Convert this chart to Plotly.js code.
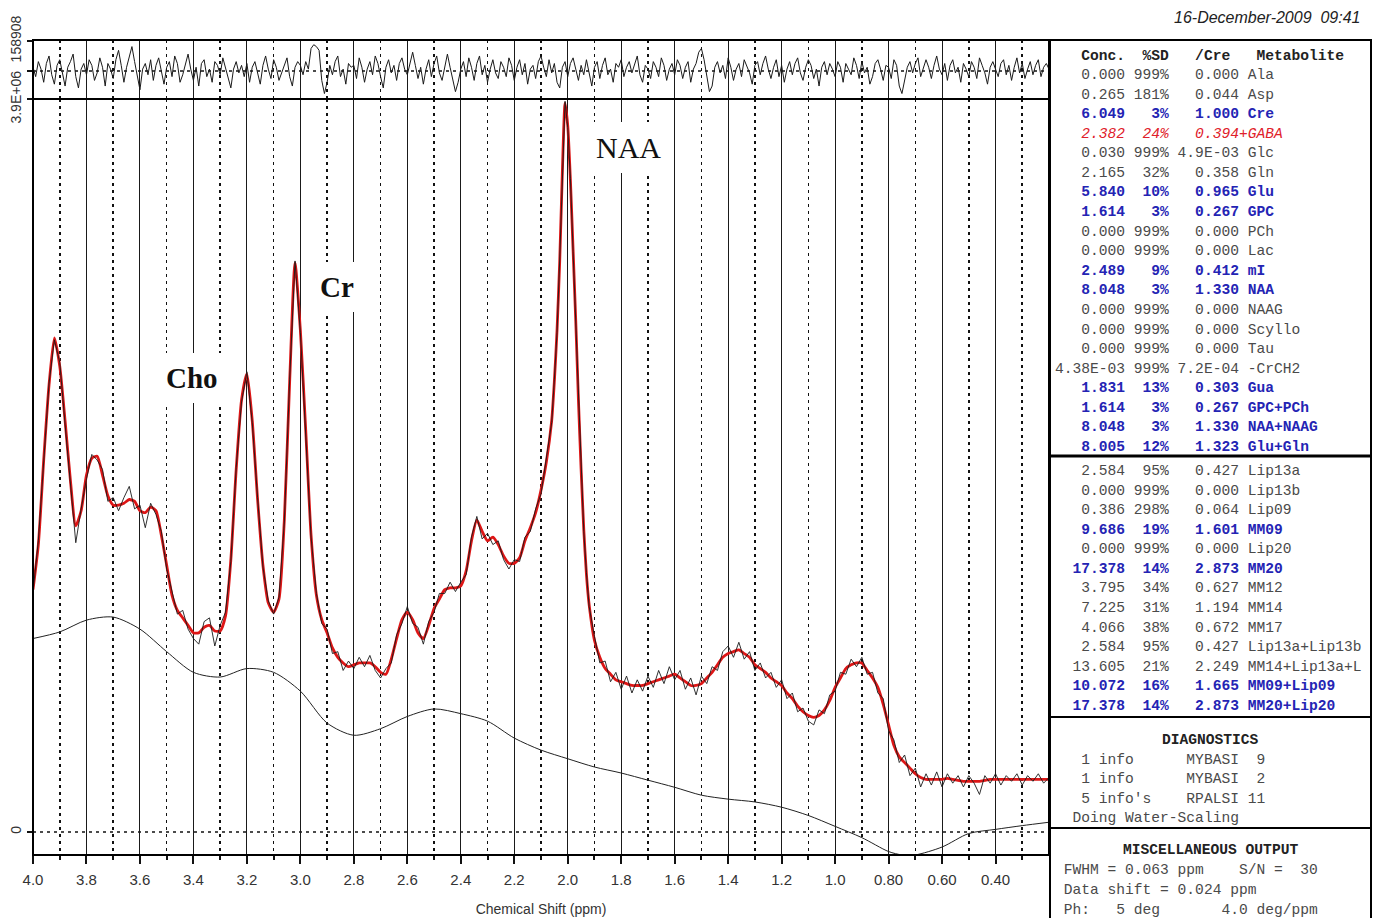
<!DOCTYPE html>
<html><head><meta charset="utf-8">
<script src="https://cdn.plot.ly/plotly-3.0.1.min.js"></script>
<style>html,body{margin:0;padding:0;background:#fff;}#chart{width:1380px;height:918px;}</style>
</head><body><div id="chart"></div>
<script>
// ---------------- DATA (intensity in units of 1e4) ----------------
const fitPpm = [
4.00,3.98,3.96,3.94,3.92,3.90,3.88,3.86,3.84,3.82,
3.80,3.78,3.76,3.74,3.72,3.70,3.68,3.66,3.64,3.62,
3.60,3.58,3.56,3.54,3.52,3.50,3.48,3.46,3.44,3.42,
3.40,3.38,3.36,3.34,3.32,3.30,3.28,3.26,3.24,3.22,
3.20,3.18,3.16,3.14,3.12,3.10,3.08,3.06,3.04,3.02,
3.00,2.98,2.96,2.94,2.92,2.90,2.88,2.86,2.84,2.82,
2.80,2.78,2.76,2.74,2.72,2.70,2.68,2.66,2.64,2.62,
2.60,2.58,2.56,2.54,2.52,2.50,2.48,2.46,2.44,2.42,
2.40,2.38,2.36,2.34,2.32,2.30,2.28,2.26,2.24,2.22,
2.20,2.18,2.16,2.14,2.12,2.10,2.08,2.06,
2.05,2.04,2.03,2.02,2.01,2.00,1.99,1.98,1.97,1.96,1.95,1.94,1.93,1.92,
1.90,1.88,1.86,1.84,1.82,1.80,1.78,1.76,1.74,1.72,
1.70,1.68,1.66,1.64,1.62,1.60,1.58,1.56,1.54,1.52,
1.50,1.48,1.46,1.44,1.42,1.40,1.38,1.36,1.34,1.32,
1.30,1.28,1.26,1.24,1.22,1.20,1.18,1.16,1.14,1.12,
1.10,1.08,1.06,1.04,1.02,1.00,0.98,0.96,0.94,0.92,
0.90,0.88,0.86,0.84,0.82,0.80,0.78,0.76,0.74,0.72,
0.70,0.68,0.66,0.64,0.62,0.60,0.58,0.56,0.54,0.52,
0.50,0.48,0.46,0.44,0.42,0.40,0.38,0.36,0.34,0.32,
0.30,0.28,0.26,0.24,0.22,0.20];

const fitVals = [
129,153,198,238,263,248,219,187,163,171,
190,199,200,190,179,174,174,175,177,176,
171,170,173,171,158,142,126,118,114,110,
106,106,109,110,107,107,115,145,193,230,
244,219,177,142,122,117,124,166,240,303,
267,214,158,126,113,106,98,93,90,88,
89,90,90,90,88,85,84,92,103,113,
117,113,106,103,110,119,124,129,130,130,
131,139,155,166,160,155,157,153,147,143,
143,146,155,162,170,182,197,219,
240,267,304,352,388,376,347,310,272,230,193,161,137,121,
102,93,87,84,81,80,79,78,78,78,
79,80,81,82,83,84,82,80,78,78,
79,82,85,89,93,95,96,97,95,93,
89,87,85,82,80,78,74,71,67,64,
62,61,62,65,70,77,82,87,89,90,
90,86,82,77,68,57,46,40,37,34,
31,29,28,28,28,28,28.5,28,27.5,27,
27,27,27,27.5,28,28,28,28,28,28,
28,28,28,28,28,28];

const dataVals = [
128,155,197,239,262,250,217,186,154,172,
188,201,198,193,176,178,171,178,184,172,
174,162,175,169,160,140,128,116,118,108,
103,100,112,114,99,110,117,144,194,229,
245,218,178,141,123,116,125,165,241,304,
266,215,157,127,111,108,95,96,86,91,
87,93,88,94,86,82,87,90,105,111,
120,111,109,100,112,117,127,127,133,128,
133,137,157,168,156,159,153,155,145,140,
145,144,157,160,172,180,199,218,
241,266,305,351,389,375,348,309,273,229,194,160,138,120,
104,90,91,80,85,76,83,74,81,75,
83,77,86,79,88,81,86,76,82,73,
83,79,88,86,96,99,93,101,92,96,
86,90,82,85,77,81,71,74,64,66,
59,57,65,63,73,75,85,84,92,88,
93,84,85,74,71,54,49,37,41,30,
34,24,31,25,32,24,31,26,30,24,
30,26,20,30,26,31,25,30,27,31,
25,30,27,31,26,29];

const basePpm = [4.0,3.9,3.8,3.7,3.6,3.5,3.4,3.3,3.2,3.1,3.0,2.9,2.8,2.7,2.6,2.5,2.4,2.3,2.2,2.1,
2.0,1.9,1.8,1.7,1.6,1.5,1.4,1.3,1.2,1.1,1.0,0.9,0.8,0.75,0.7,0.6,0.5,0.4,0.3,0.2];
const baseVals = [103,106.5,112.8,114.4,108,96,85,82.5,87,85,75,58,51.5,55,61.5,65.5,63,59,50,43.6,
39,34.6,31.4,27.6,23.8,19.6,17.5,16,13.2,8.8,3,-3,-10.4,-12.2,-12.2,-8,-0.8,1.4,3.4,5.2];

const resPpm = [
4.00,3.99,3.98,3.97,3.96,3.95,3.94,3.93,3.92,3.91,3.90,3.89,3.88,3.87,3.86,3.85,3.84,3.83,3.82,3.81,
3.80,3.79,3.78,3.77,3.76,3.75,3.74,3.73,3.72,3.71,3.70,3.69,3.68,3.67,3.66,3.65,3.64,3.63,3.62,3.61,
3.60,3.59,3.58,3.57,3.56,3.55,3.54,3.53,3.52,3.51,3.50,3.49,3.48,3.47,3.46,3.45,3.44,3.43,3.42,3.41,
3.40,3.39,3.38,3.37,3.36,3.35,3.34,3.33,3.32,3.31,3.30,3.29,3.28,3.27,3.26,3.25,3.24,3.23,3.22,3.21,
3.20,3.19,3.18,3.17,3.16,3.15,3.14,3.13,3.12,3.11,3.10,3.09,3.08,3.07,3.06,3.05,3.04,3.03,3.02,3.01,
3.00,2.99,2.98,2.97,2.96,2.95,2.94,2.93,2.92,2.91,2.90,2.89,2.88,2.87,2.86,2.85,2.84,2.83,2.82,2.81,
2.80,2.79,2.78,2.77,2.76,2.75,2.74,2.73,2.72,2.71,2.70,2.69,2.68,2.67,2.66,2.65,2.64,2.63,2.62,2.61,
2.60,2.59,2.58,2.57,2.56,2.55,2.54,2.53,2.52,2.51,2.50,2.49,2.48,2.47,2.46,2.45,2.44,2.43,2.42,2.41,
2.40,2.39,2.38,2.37,2.36,2.35,2.34,2.33,2.32,2.31,2.30,2.29,2.28,2.27,2.26,2.25,2.24,2.23,2.22,2.21,
2.20,2.19,2.18,2.17,2.16,2.15,2.14,2.13,2.12,2.11,2.10,2.09,2.08,2.07,2.06,2.05,2.04,2.03,2.02,2.01,
2.00,1.99,1.98,1.97,1.96,1.95,1.94,1.93,1.92,1.91,1.90,1.89,1.88,1.87,1.86,1.85,1.84,1.83,1.82,1.81,
1.80,1.79,1.78,1.77,1.76,1.75,1.74,1.73,1.72,1.71,1.70,1.69,1.68,1.67,1.66,1.65,1.64,1.63,1.62,1.61,
1.60,1.59,1.58,1.57,1.56,1.55,1.54,1.53,1.52,1.51,1.50,1.49,1.48,1.47,1.46,1.45,1.44,1.43,1.42,1.41,
1.40,1.39,1.38,1.37,1.36,1.35,1.34,1.33,1.32,1.31,1.30,1.29,1.28,1.27,1.26,1.25,1.24,1.23,1.22,1.21,
1.20,1.19,1.18,1.17,1.16,1.15,1.14,1.13,1.12,1.11,1.10,1.09,1.08,1.07,1.06,1.05,1.04,1.03,1.02,1.01,
1.00,0.99,0.98,0.97,0.96,0.95,0.94,0.93,0.92,0.91,0.90,0.89,0.88,0.87,0.86,0.85,0.84,0.83,0.82,0.81,
0.80,0.79,0.78,0.77,0.76,0.75,0.74,0.73,0.72,0.71,0.70,0.69,0.68,0.67,0.66,0.65,0.64,0.63,0.62,0.61,
0.60,0.59,0.58,0.57,0.56,0.55,0.54,0.53,0.52,0.51,0.50,0.49,0.48,0.47,0.46,0.45,0.44,0.43,0.42,0.41,
0.40,0.39,0.38,0.37,0.36,0.35,0.34,0.33,0.32,0.31,0.30,0.29,0.28,0.27,0.26,0.25,0.24,0.23,0.22,0.21,
0.20];

const resVals = [
2,-3,5,1,-6,4,8,-2,-7,3,6,-1,-8,2,5,9,-3,-9,1,4,
-2,6,3,-5,-1,7,2,-8,4,1,-4,6,11,3,-6,2,8,13,5,-3,
-10,1,4,-2,6,-5,3,7,-1,-7,2,5,-3,8,4,-6,-2,3,9,1,
-5,2,-8,4,6,-3,1,-6,5,3,-2,7,2,-4,-9,1,5,-1,3,-3,
4,-6,2,5,-2,-7,3,8,1,-4,6,2,-5,-1,4,7,-3,-8,2,5,
3,-2,5,1,12,14,13,11,-5,-12,-6,3,-2,5,8,-3,1,-7,4,2,
3,-4,7,2,-6,1,5,-2,8,4,-3,-9,2,6,-1,3,-5,4,7,1,
-2,5,10,3,-4,2,-7,1,6,-3,4,8,-1,-5,3,9,2,-4,-11,-6,
1,5,-3,7,2,-5,4,8,-2,3,-6,1,6,-1,-4,5,2,-3,7,3,
-5,2,6,-2,4,-7,1,3,-4,5,8,2,-3,6,-1,4,-6,-9,2,5,
-3,4,7,1,-5,3,-2,6,-1,-8,2,5,-4,3,7,-2,1,-6,4,2,
6,-3,2,5,-1,4,8,-2,-6,3,1,-4,5,2,-3,7,3,-5,1,4,
-2,6,3,-4,2,5,-6,1,4,10,12,6,-3,-11,-8,2,5,-1,3,-4,
7,2,-5,1,4,-3,6,2,-1,-7,3,5,-2,4,8,1,-4,2,6,-3,
3,-6,1,5,-2,4,7,-1,-5,2,6,3,-4,1,-8,2,5,-2,4,1,
-3,5,2,-6,4,1,-2,7,3,-4,5,-1,2,-7,-3,4,6,1,-5,3,
2,-4,6,3,-8,-12,-5,2,5,-1,4,7,-3,1,6,2,-4,3,8,1,
-2,4,-5,3,6,-1,2,-6,4,1,-3,5,2,-4,7,3,-1,-7,2,5,
1,-3,4,6,-2,3,-5,2,7,-1,4,-4,1,5,-2,3,6,-3,2,4,
1];

const majorTicks  = [4.0,3.8,3.6,3.4,3.2,3.0,2.8,2.6,2.4,2.2,2.0,1.8,1.6,1.4,1.2,1.0,0.8,0.6,0.4];
const majorLabels = ['4.0','3.8','3.6','3.4','3.2','3.0','2.8','2.6','2.4','2.2','2.0','1.8','1.6','1.4','1.2','1.0','0.80','0.60','0.40'];
const minorTicks  = [3.9,3.7,3.5,3.3,3.1,2.9,2.7,2.5,2.3,2.1,1.9,1.7,1.5,1.3,1.1,0.9,0.7,0.5,0.3];
const yMainTicks = [0, 390];
const yMainLabels = ['0', '3.9E+06'];
const yResTicks = [0, 15.89];
const yResLabels = ['', '158908'];

const peakLabels = ['NAA', 'Cr', 'Cho'];

const metNames = ['Ala','Asp','Cre','GABA','Glc','Gln','Glu','GPC','PCh','Lac','mI','NAA','NAAG','Scyllo','Tau','-CrCH2','Gua','GPC+PCh','NAA+NAAG','Glu+Gln'];
const metConc  = ['0.000','0.265','6.049','2.382','0.030','2.165','5.840','1.614','0.000','0.000','2.489','8.048','0.000','0.000','0.000','4.38E-03','1.831','1.614','8.048','8.005'];
const metSD    = [999,181,3,24,999,32,10,3,999,999,9,3,999,999,999,999,13,3,3,12];
const metRatio = ['0.000','0.044','1.000','0.394','4.9E-03','0.358','0.965','0.267','0.000','0.000','0.412','1.330','0.000','0.000','0.000','7.2E-04','0.303','0.267','1.330','1.323'];
const highlighted = ['GABA'];

const lipNames = ['Lip13a','Lip13b','Lip09','MM09','Lip20','MM20','MM12','MM14','MM17','Lip13a+Lip13b','MM14+Lip13a+L','MM09+Lip09','MM20+Lip20'];
const lipConc  = ['2.584','0.000','0.386','9.686','0.000','17.378','3.795','7.225','4.066','2.584','13.605','10.072','17.378'];
const lipSD    = [95,999,298,19,999,14,34,31,38,95,21,16,14];
const lipRatio = ['0.427','0.000','0.064','1.601','0.000','2.873','0.627','1.194','0.672','0.427','2.249','1.665','2.873'];

const diagTitle = 'DIAGNOSTICS';
const diagLines = ['   1 info      MYBASI  9', '   1 info      MYBASI  2', "   5 info's    RPALSI 11", '  Doing Water-Scaling'];
const miscTitle = 'MISCELLANEOUS OUTPUT';
const miscLines = [' FWHM = 0.063 ppm    S/N =  30', ' Data shift = 0.024 ppm', ' Ph:   5 deg       4.0 deg/ppm'];
const tableHeader = '   Conc.  %SD   /Cre   Metabolite';
const dateText = '16-December-2009  09:41';
const xTitle = 'Chemical Shift (ppm)';

// ---------------- LAYOUT ----------------
const W = 1380, H = 918;
const L = 33, R = 1049, T = 40, B = 855, SPLIT = 99;
const px = x => (x - L) / (R - L);
const py = y => (B - y) / (B - T);
const nb = s => s.replace(/ /g, '\u00A0');

const MONO = 'Liberation Mono, Courier New, monospace';
const SANS = 'Liberation Sans, Arial, sans-serif';
const SERIF = 'Liberation Serif, Times New Roman, serif';
const GRAY = '#4a4a4a', BLUE = '#2424b4', RED = '#e0202a';

function row(conc, sd, ratio, name, sep) {
  return conc.padStart(8) + ' ' + (sd + '%').padStart(4) + ' ' + ratio.padStart(7) + sep + name;
}
function styled(txt, kind) {
  const t = nb(txt);
  if (kind === 'blue') return '<b>' + t + '</b>';
  if (kind === 'red') return '<i>' + t + '</i>';
  return t;
}
const annotations = [];
function addLine(text, yPix, color, xPix, anchor) {
  annotations.push({xref:'paper', yref:'paper', x: px(xPix), y: py(yPix), xanchor: anchor || 'left', yanchor:'middle',
    text: text, showarrow:false, borderpad:0, borderwidth:0,
    font:{family: MONO, size: 14.6, color: color}});
}
addLine('<b>' + nb(tableHeader) + '</b>', 56, '#222', 1055);
metNames.forEach((n, i) => {
  const hi = highlighted.includes(n);
  const kind = hi ? 'red' : (metSD[i] <= 20 ? 'blue' : 'gray');
  const col = kind === 'red' ? RED : kind === 'blue' ? BLUE : GRAY;
  addLine(styled(row(metConc[i], metSD[i], metRatio[i], n, hi ? '+' : ' '), kind), 75 + i * 19.58, col, 1055);
});
lipNames.forEach((n, i) => {
  const kind = lipSD[i] <= 20 ? 'blue' : 'gray';
  addLine(styled(row(lipConc[i], lipSD[i], lipRatio[i], n, ' '), kind), 471 + i * 19.58, kind === 'blue' ? BLUE : GRAY, 1055);
});
addLine('<b>' + diagTitle + '</b>', 740, '#222', 1210, 'center');
diagLines.forEach((t, i) => addLine(nb(t), 759.5 + i * 19.6, GRAY, 1055));
addLine('<b>' + miscTitle + '</b>', 850, '#222', 1210, 'center');
miscLines.forEach((t, i) => addLine(nb(t), 870 + i * 20, GRAY, 1055));

annotations.push({xref:'paper', yref:'paper', x: px(1363), y: py(18), xanchor:'right', yanchor:'middle',
  text: '<i>' + nb(dateText) + '</i>', showarrow:false, font:{family: SANS, size: 16, color:'#222'}});

// peak labels (white boxes interrupt the grid, as in the original)
const peakPos = [[628, 147, false, 30], [337, 287, true, 29], [192, 378, true, 29]];
peakLabels.forEach((t, i) => {
  const p = peakPos[i];
  annotations.push({xref:'paper', yref:'paper', x: px(p[0]), y: py(p[1]), xanchor:'center', yanchor:'middle',
    text: p[2] ? '<b>' + t + '</b>' : t, showarrow:false, bgcolor:'#fff', borderpad: 9, borderwidth:0,
    font:{family: SERIF, size: p[3], color:'#111'}});
});

const shapes = [
  {type:'line', xref:'paper', yref:'y', x0:0, x1:1, y0:0, y1:0, layer:'below', line:{color:'#111', width:1.5, dash:'3px,4px'}},
  {type:'line', xref:'paper', yref:'y2', x0:0, x1:1, y0:0, y1:0, layer:'below', line:{color:'#111', width:1.5, dash:'3px,4px'}},
  {type:'rect', xref:'paper', yref:'paper', x0:0, x1:1, y0:0, y1:1, line:{color:'#000', width:2}},
  {type:'line', xref:'paper', yref:'paper', x0:0, x1:1, y0:py(SPLIT), y1:py(SPLIT), line:{color:'#000', width:2}},
  {type:'rect', xref:'paper', yref:'paper', x0:px(1050), x1:px(1371), y0:py(930), y1:py(40), line:{color:'#000', width:2}},
  {type:'line', xref:'paper', yref:'paper', x0:px(1050), x1:px(1371), y0:py(456), y1:py(456), line:{color:'#000', width:3}},
  {type:'line', xref:'paper', yref:'paper', x0:px(1050), x1:px(1371), y0:py(717), y1:py(717), line:{color:'#000', width:2}},
  {type:'line', xref:'paper', yref:'paper', x0:px(1050), x1:px(1371), y0:py(828), y1:py(828), line:{color:'#000', width:2}}
];

const traces = [
  {x: fitPpm, y: fitVals, type:'scatter', mode:'lines', xaxis:'x', yaxis:'y', hoverinfo:'skip',
   line:{color:'#dd1616', width:2.8, shape:'spline', smoothing:0.6}},
  {x: fitPpm, y: dataVals, type:'scatter', mode:'lines', xaxis:'x', yaxis:'y', hoverinfo:'skip',
   line:{color:'#1a1a1a', width:0.9}},
  {x: basePpm, y: baseVals, type:'scatter', mode:'lines', xaxis:'x', yaxis:'y', hoverinfo:'skip',
   line:{color:'#222', width:1, shape:'spline', smoothing:0.8}},
  {x: resPpm, y: resVals, type:'scatter', mode:'lines', xaxis:'x', yaxis:'y2', hoverinfo:'skip',
   line:{color:'#1a1a1a', width:1}}
];

const tickFont = {family: SANS, size: 15, color:'#333'};
const layout = {
  width: W, height: H, margin:{l:L, r:W - R, t:T, b:H - B, pad:0},
  paper_bgcolor:'#fff', plot_bgcolor:'#fff', showlegend:false,
  xaxis:{anchor:'y', range:[4.0, 0.2], autorange:false, tickmode:'array', tickvals: majorTicks, ticktext: majorLabels,
    ticks:'outside', ticklen:8, tickwidth:2, tickcolor:'#111', showgrid:true, gridcolor:'#1a1a1a', gridwidth:1,
    zeroline:false, showline:false, tickfont: tickFont, ticklabelstandoff: 3,
    title:{text: xTitle, font:{family: SANS, size: 14, color:'#333'}, standoff: 17},
    minor:{tickmode:'array', tickvals: minorTicks, ticks:'outside', ticklen:4, tickwidth:2, tickcolor:'#111',
      showgrid:true, gridcolor:'#111', gridwidth:1.6, griddash:'3px,4px'}},
  yaxis:{domain:[0, py(SPLIT)], range:[-12.24, 390.2], autorange:false, tickmode:'array', tickvals: yMainTicks, ticktext: yMainLabels,
    tickangle:-90, ticks:'outside', ticklen:5, tickwidth:2, tickcolor:'#111', showgrid:false, zeroline:false, showline:false,
    tickfont:{family: SANS, size: 14, color:'#333'}},
  yaxis2:{anchor:'x', domain:[py(SPLIT), 1], range:[-14.9, 16.5], autorange:false, tickmode:'array', tickvals: yResTicks, ticktext: yResLabels,
    tickangle:-90, ticks:'outside', ticklen:5, tickwidth:2, tickcolor:'#111', showgrid:false, zeroline:false, showline:false,
    tickfont:{family: SANS, size: 14, color:'#333'}},
  shapes: shapes, annotations: annotations
};
Plotly.newPlot('chart', traces, layout, {displayModeBar:false, staticPlot:true});
</script></body></html>
